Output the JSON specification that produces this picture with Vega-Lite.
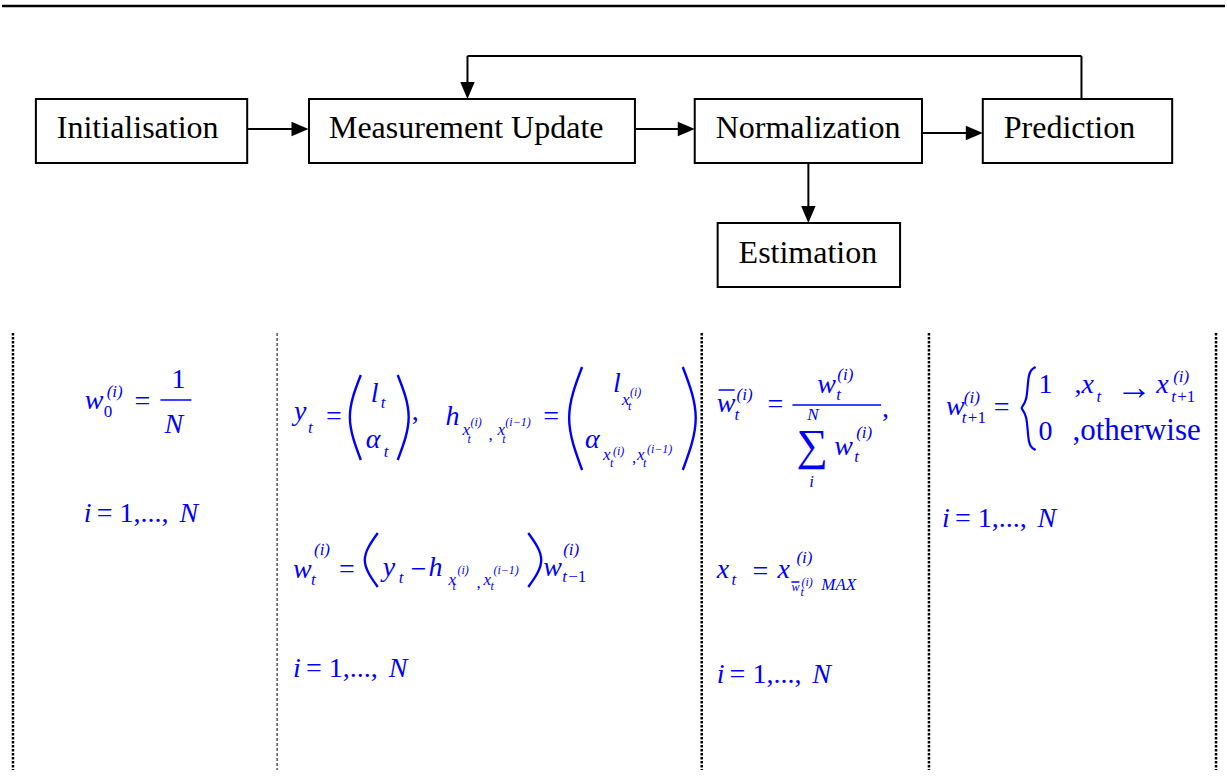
{
  "$schema": "https://vega.github.io/schema/vega-lite/v6.json",
  "width": 1227,
  "height": 780,
  "autosize": {"type": "fit", "contains": "padding"},
  "padding": 0,
  "background": "white",
  "config": {"view": {"stroke": null}},
  "datasets": {
    "topline": [{"x": 0, "x2": 1227, "y": 6, "y2": 6}],
    "boxes": [
      {"name": "Initialisation", "x": 34, "x2": 246, "y": 99, "y2": 163, "tx": 55, "ty": 138},
      {"name": "Measurement Update", "x": 308, "x2": 635, "y": 99, "y2": 163, "tx": 328, "ty": 138},
      {"name": "Normalization", "x": 695, "x2": 923, "y": 99, "y2": 163, "tx": 716, "ty": 138},
      {"name": "Prediction", "x": 984, "x2": 1174, "y": 99, "y2": 163, "tx": 1005, "ty": 138},
      {"name": "Estimation", "x": 718, "x2": 901, "y": 223, "y2": 287, "tx": 739, "ty": 263}
    ],
    "connectors": [
      {"x": 246, "y": 129, "x2": 292, "y2": 129},
      {"x": 635, "y": 129, "x2": 680, "y2": 129},
      {"x": 923, "y": 133, "x2": 968, "y2": 133},
      {"x": 1083, "y": 99, "x2": 1083, "y2": 56},
      {"x": 1083, "y": 56, "x2": 467, "y2": 56},
      {"x": 467, "y": 56, "x2": 467, "y2": 84},
      {"x": 809, "y": 163, "x2": 809, "y2": 208}
    ],
    "heads": [
      {"x": 299, "y": 129, "dir": "right"},
      {"x": 686.5, "y": 129, "dir": "right"},
      {"x": 975.5, "y": 133, "dir": "right"},
      {"x": 467, "y": 90.5, "dir": "down"},
      {"x": 809, "y": 214.5, "dir": "down"}
    ],
    "dotted": [
      {"x": 11, "y": 333, "y2": 770},
      {"x": 702, "y": 333, "y2": 770},
      {"x": 930, "y": 333, "y2": 770},
      {"x": 1218, "y": 333, "y2": 770}
    ],
    "dashed": [{"x": 276, "y": 333, "y2": 770}],
    "bars": [
      {"x": 159, "x2": 190, "y": 400},
      {"x": 793, "x2": 882, "y": 405},
      {"x": 719, "x2": 735, "y": 390},
      {"x": 792, "x2": 800, "y": 582}
    ],
    "parens": [
      {"id": "p1", "k": 0, "x": 360, "y": 375}, {"id": "p1", "k": 1, "x": 349, "y": 417}, {"id": "p1", "k": 2, "x": 360, "y": 460},
      {"id": "p2", "k": 0, "x": 397, "y": 375}, {"id": "p2", "k": 1, "x": 408, "y": 417}, {"id": "p2", "k": 2, "x": 397, "y": 460},
      {"id": "p3", "k": 0, "x": 582, "y": 367}, {"id": "p3", "k": 1, "x": 569, "y": 418}, {"id": "p3", "k": 2, "x": 582, "y": 470},
      {"id": "p4", "k": 0, "x": 683, "y": 367}, {"id": "p4", "k": 1, "x": 696, "y": 418}, {"id": "p4", "k": 2, "x": 683, "y": 470},
      {"id": "p5", "k": 0, "x": 377, "y": 533}, {"id": "p5", "k": 1, "x": 364, "y": 560}, {"id": "p5", "k": 2, "x": 377, "y": 587},
      {"id": "p6", "k": 0, "x": 528, "y": 533}, {"id": "p6", "k": 1, "x": 541, "y": 560}, {"id": "p6", "k": 2, "x": 528, "y": 587}
    ],
    "brace": [
      {"k": 0, "x": 1037, "y": 367}, {"k": 1, "x": 1029, "y": 371}, {"k": 2, "x": 1029, "y": 403},
      {"k": 3, "x": 1020, "y": 408}, {"k": 4, "x": 1029, "y": 413}, {"k": 5, "x": 1029, "y": 446}, {"k": 6, "x": 1037, "y": 450}
    ],
    "math": [
      {"x": 83, "y": 409, "t": "w", "lvl": "L", "kind": "v"},
      {"x": 105, "y": 397, "t": "(i)", "lvl": "S", "kind": "v"},
      {"x": 102, "y": 417, "t": "0", "lvl": "S", "kind": "n"},
      {"x": 133, "y": 410, "t": "=", "lvl": "L", "kind": "n"},
      {"x": 170, "y": 388, "t": "1", "lvl": "L", "kind": "n"},
      {"x": 163, "y": 433, "t": "N", "lvl": "L", "kind": "v"},
      {"x": 82, "y": 522, "t": "i", "lvl": "L", "kind": "v"},
      {"x": 95, "y": 522, "t": "= 1,...,", "lvl": "L", "kind": "n"},
      {"x": 178, "y": 522, "t": "N", "lvl": "L", "kind": "v"},

      {"x": 293, "y": 420, "t": "y", "lvl": "L", "kind": "v"},
      {"x": 307, "y": 433, "t": "t", "lvl": "S", "kind": "v"},
      {"x": 325, "y": 425, "t": "=", "lvl": "L", "kind": "n"},
      {"x": 370, "y": 402, "t": "l", "lvl": "L", "kind": "v"},
      {"x": 380, "y": 408, "t": "t", "lvl": "S", "kind": "v"},
      {"x": 365, "y": 448, "t": "α", "lvl": "L", "kind": "v"},
      {"x": 383, "y": 457, "t": "t", "lvl": "S", "kind": "v"},
      {"x": 411, "y": 420, "t": ",", "lvl": "L", "kind": "n"},
      {"x": 445, "y": 425, "t": "h", "lvl": "L", "kind": "v"},
      {"x": 462, "y": 435, "t": "x", "lvl": "S", "kind": "v"},
      {"x": 470, "y": 426, "t": "(i)", "lvl": "T", "kind": "v"},
      {"x": 467, "y": 443, "t": "t", "lvl": "T", "kind": "v"},
      {"x": 488, "y": 440, "t": ",", "lvl": "S", "kind": "n"},
      {"x": 497, "y": 435, "t": "x", "lvl": "S", "kind": "v"},
      {"x": 505, "y": 426, "t": "(i−1)", "lvl": "T", "kind": "v"},
      {"x": 502, "y": 443, "t": "t", "lvl": "T", "kind": "v"},
      {"x": 543, "y": 425, "t": "=", "lvl": "L", "kind": "n"},
      {"x": 613, "y": 392, "t": "l", "lvl": "L", "kind": "v"},
      {"x": 622, "y": 405, "t": "x", "lvl": "S", "kind": "v"},
      {"x": 630, "y": 396, "t": "(i)", "lvl": "T", "kind": "v"},
      {"x": 628, "y": 410, "t": "t", "lvl": "T", "kind": "v"},
      {"x": 585, "y": 448, "t": "α", "lvl": "L", "kind": "v"},
      {"x": 603, "y": 460, "t": "x", "lvl": "S", "kind": "v"},
      {"x": 613, "y": 455, "t": "(i)", "lvl": "T", "kind": "v"},
      {"x": 610, "y": 467, "t": "t", "lvl": "T", "kind": "v"},
      {"x": 632, "y": 463, "t": ",", "lvl": "S", "kind": "n"},
      {"x": 637, "y": 460, "t": "x", "lvl": "S", "kind": "v"},
      {"x": 647, "y": 453, "t": "(i−1)", "lvl": "T", "kind": "v"},
      {"x": 643, "y": 467, "t": "t", "lvl": "T", "kind": "v"},

      {"x": 292, "y": 578, "t": "w", "lvl": "L", "kind": "v"},
      {"x": 313, "y": 555, "t": "(i)", "lvl": "S", "kind": "v"},
      {"x": 310, "y": 585, "t": "t", "lvl": "S", "kind": "v"},
      {"x": 338, "y": 578, "t": "=", "lvl": "L", "kind": "n"},
      {"x": 382, "y": 576, "t": "y", "lvl": "L", "kind": "v"},
      {"x": 398, "y": 583, "t": "t", "lvl": "S", "kind": "v"},
      {"x": 410, "y": 578, "t": "−", "lvl": "L", "kind": "n"},
      {"x": 428, "y": 576, "t": "h", "lvl": "L", "kind": "v"},
      {"x": 448, "y": 585, "t": "x", "lvl": "S", "kind": "v"},
      {"x": 457, "y": 574, "t": "(i)", "lvl": "T", "kind": "v"},
      {"x": 452, "y": 590, "t": "t", "lvl": "T", "kind": "v"},
      {"x": 476, "y": 588, "t": ",", "lvl": "S", "kind": "n"},
      {"x": 483, "y": 585, "t": "x", "lvl": "S", "kind": "v"},
      {"x": 493, "y": 574, "t": "(i−1)", "lvl": "T", "kind": "v"},
      {"x": 490, "y": 590, "t": "t", "lvl": "T", "kind": "v"},
      {"x": 543, "y": 576, "t": "w", "lvl": "L", "kind": "v"},
      {"x": 563, "y": 555, "t": "(i)", "lvl": "S", "kind": "v"},
      {"x": 562, "y": 582, "t": "t", "lvl": "S", "kind": "v"},
      {"x": 568, "y": 582, "t": "−1", "lvl": "S", "kind": "n"},
      {"x": 292, "y": 677, "t": "i", "lvl": "L", "kind": "v"},
      {"x": 305, "y": 677, "t": "= 1,...,", "lvl": "L", "kind": "n"},
      {"x": 388, "y": 677, "t": "N", "lvl": "L", "kind": "v"},

      {"x": 717, "y": 412, "t": "w", "lvl": "L", "kind": "v"},
      {"x": 735, "y": 420, "t": "t", "lvl": "S", "kind": "v"},
      {"x": 737, "y": 400, "t": "(i)", "lvl": "S", "kind": "v"},
      {"x": 768, "y": 413, "t": "=", "lvl": "L", "kind": "n"},
      {"x": 818, "y": 393, "t": "w", "lvl": "L", "kind": "v"},
      {"x": 838, "y": 380, "t": "(i)", "lvl": "S", "kind": "v"},
      {"x": 837, "y": 400, "t": "t", "lvl": "S", "kind": "v"},
      {"x": 808, "y": 420, "t": "N", "lvl": "S", "kind": "v"},
      {"x": 797, "y": 460, "t": "∑", "lvl": "G", "kind": "n"},
      {"x": 835, "y": 455, "t": "w", "lvl": "L", "kind": "v"},
      {"x": 857, "y": 438, "t": "(i)", "lvl": "S", "kind": "v"},
      {"x": 855, "y": 462, "t": "t", "lvl": "S", "kind": "v"},
      {"x": 810, "y": 487, "t": "i", "lvl": "S", "kind": "v"},
      {"x": 883, "y": 417, "t": ",", "lvl": "L", "kind": "n"},
      {"x": 717, "y": 578, "t": "x", "lvl": "L", "kind": "v"},
      {"x": 732, "y": 585, "t": "t", "lvl": "S", "kind": "v"},
      {"x": 753, "y": 580, "t": "=", "lvl": "L", "kind": "n"},
      {"x": 778, "y": 578, "t": "x", "lvl": "L", "kind": "v"},
      {"x": 797, "y": 563, "t": "(i)", "lvl": "S", "kind": "v"},
      {"x": 792, "y": 591, "t": "w", "lvl": "T", "kind": "v"},
      {"x": 802, "y": 586, "t": "(i)", "lvl": "T", "kind": "v"},
      {"x": 801, "y": 596, "t": "t", "lvl": "T", "kind": "v"},
      {"x": 822, "y": 590, "t": "MAX", "lvl": "S", "kind": "v"},
      {"x": 717, "y": 683, "t": "i", "lvl": "L", "kind": "v"},
      {"x": 730, "y": 683, "t": "= 1,...,", "lvl": "L", "kind": "n"},
      {"x": 813, "y": 683, "t": "N", "lvl": "L", "kind": "v"},

      {"x": 947, "y": 415, "t": "w", "lvl": "L", "kind": "v"},
      {"x": 965, "y": 403, "t": "(i)", "lvl": "S", "kind": "v"},
      {"x": 963, "y": 423, "t": "t", "lvl": "S", "kind": "v"},
      {"x": 969, "y": 423, "t": "+1", "lvl": "S", "kind": "n"},
      {"x": 995, "y": 416, "t": "=", "lvl": "L", "kind": "n"},
      {"x": 1040, "y": 393, "t": "1", "lvl": "L", "kind": "n"},
      {"x": 1076, "y": 393, "t": ",", "lvl": "L", "kind": "n"},
      {"x": 1083, "y": 393, "t": "x", "lvl": "L", "kind": "v"},
      {"x": 1098, "y": 402, "t": "t", "lvl": "S", "kind": "v"},
      {"x": 1118, "y": 399, "t": "→", "lvl": "A", "kind": "n"},
      {"x": 1158, "y": 393, "t": "x", "lvl": "L", "kind": "v"},
      {"x": 1175, "y": 382, "t": "(i)", "lvl": "S", "kind": "v"},
      {"x": 1173, "y": 402, "t": "t", "lvl": "S", "kind": "v"},
      {"x": 1179, "y": 402, "t": "+1", "lvl": "S", "kind": "n"},
      {"x": 1040, "y": 440, "t": "0", "lvl": "L", "kind": "n"},
      {"x": 1074, "y": 440, "t": ",otherwise", "lvl": "W", "kind": "n"},
      {"x": 943, "y": 527, "t": "i", "lvl": "L", "kind": "v"},
      {"x": 956, "y": 527, "t": "= 1,...,", "lvl": "L", "kind": "n"},
      {"x": 1039, "y": 527, "t": "N", "lvl": "L", "kind": "v"}
    ]
  },
  "encoding": {
    "x": {"field": "x", "type": "quantitative", "scale": {"domain": [0, 1227], "nice": false, "zero": false}, "axis": null},
    "y": {"field": "y", "type": "quantitative", "scale": {"domain": [0, 780], "nice": false, "zero": false, "reverse": true}, "axis": null}
  },
  "layer": [
    {
      "data": {"name": "topline"},
      "mark": {"type": "rule", "color": "black", "strokeWidth": 2.5},
      "encoding": {"x2": {"field": "x2"}, "y2": {"field": "y2"}}
    },
    {
      "data": {"name": "dotted"},
      "mark": {"type": "rule", "color": "black", "strokeWidth": 2.5, "strokeDash": [2.5, 1.5]},
      "encoding": {"y2": {"field": "y2"}}
    },
    {
      "data": {"name": "dashed"},
      "mark": {"type": "rule", "color": "black", "strokeWidth": 1, "strokeDash": [3, 2]},
      "encoding": {"y2": {"field": "y2"}}
    },
    {
      "data": {"name": "connectors"},
      "mark": {"type": "rule", "color": "black", "strokeWidth": 2},
      "encoding": {"x2": {"field": "x2"}, "y2": {"field": "y2"}}
    },
    {
      "data": {"name": "heads"},
      "mark": {"type": "point", "filled": true, "color": "black", "opacity": 1, "size": 289},
      "encoding": {
        "shape": {"field": "dir", "type": "nominal", "legend": null,
          "scale": {"domain": ["right", "down"], "range": ["M-1,-0.85L1,0L-1,0.85Z", "M-0.85,-1L0.85,-1L0,1Z"]}}
      }
    },
    {
      "data": {"name": "boxes"},
      "mark": {"type": "rect", "fill": "white", "stroke": "black", "strokeWidth": 2},
      "encoding": {"x2": {"field": "x2"}, "y2": {"field": "y2"}}
    },
    {
      "data": {"name": "boxes"},
      "mark": {"type": "text", "font": "Liberation Serif", "fontSize": 32, "color": "black", "align": "left", "baseline": "alphabetic"},
      "encoding": {
        "x": {"field": "tx", "type": "quantitative"},
        "y": {"field": "ty", "type": "quantitative"},
        "text": {"field": "name"}
      }
    },
    {
      "data": {"name": "bars"},
      "mark": {"type": "rule", "color": "#0000FF", "strokeWidth": 1.5},
      "encoding": {"x2": {"field": "x2"}}
    },
    {
      "data": {"name": "parens"},
      "mark": {"type": "line", "color": "#0000FF", "strokeWidth": 2.4, "interpolate": "natural"},
      "encoding": {"detail": {"field": "id"}, "order": {"field": "k", "type": "quantitative"}}
    },
    {
      "data": {"name": "brace"},
      "mark": {"type": "line", "color": "#0000FF", "strokeWidth": 2.2, "interpolate": "basis"},
      "encoding": {"order": {"field": "k", "type": "quantitative"}}
    },
    {
      "data": {"name": "math"},
      "transform": [{"filter": "datum.kind === 'v'"}],
      "mark": {"type": "text", "font": "Liberation Serif", "fontStyle": "italic", "color": "#0000FF", "align": "left", "baseline": "alphabetic"},
      "encoding": {
        "text": {"field": "t"},
        "size": {"field": "lvl", "type": "nominal", "legend": null, "scale": {"type": "ordinal", "domain": ["L", "S", "T", "G", "A", "W"], "range": [28, 17, 12, 44, 36, 31]}}
      }
    },
    {
      "data": {"name": "math"},
      "transform": [{"filter": "datum.kind === 'n'"}],
      "mark": {"type": "text", "font": "Liberation Serif", "color": "#0000FF", "align": "left", "baseline": "alphabetic"},
      "encoding": {
        "text": {"field": "t"},
        "size": {"field": "lvl", "type": "nominal", "legend": null, "scale": {"type": "ordinal", "domain": ["L", "S", "T", "G", "A", "W"], "range": [28, 17, 12, 44, 36, 31]}}
      }
    }
  ]
}
